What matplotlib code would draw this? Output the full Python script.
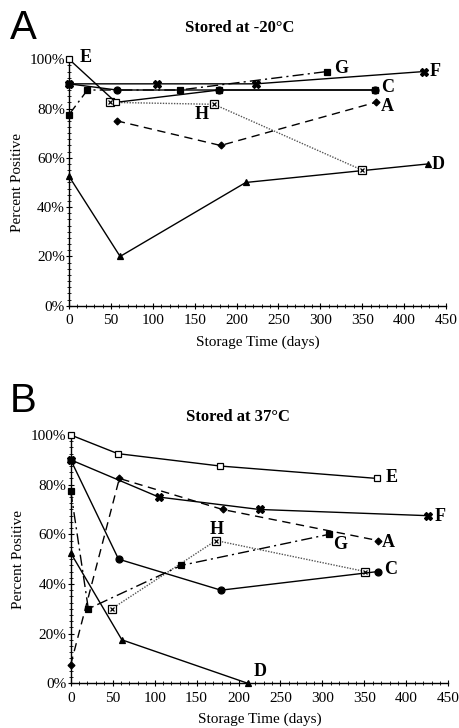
import matplotlib
matplotlib.use("Agg")
import matplotlib.pyplot as plt
from matplotlib.ticker import MultipleLocator, PercentFormatter

# ---- data: panel A, stored at -20C ----
a_A_days = [57, 181, 366]
a_A_pct = [75, 65, 82.5]
a_C_days = [0, 57, 179, 365]
a_C_pct = [90, 87.5, 87.5, 87.5]
a_D_days = [0, 61, 211, 428]
a_D_pct = [52.5, 20, 50, 57.5]
a_E_days = [0, 56, 179, 365]
a_E_pct = [100, 82.5, 87.5, 87.5]
a_F_days = [0, 105, 223, 424]
a_F_pct = [90, 90, 90, 95]
a_G_days = [0, 22, 132, 308]
a_G_pct = [77.5, 87.5, 87.5, 95]
a_H_days = [49, 173, 350]
a_H_pct = [82.5, 81.7, 55]

# ---- data: panel B, stored at 37C ----
b_A_days = [0, 58, 181, 366]
b_A_pct = [7.5, 82.5, 70, 57.5]
b_C_days = [0, 57, 179, 366]
b_C_pct = [90, 50, 37.5, 45]
b_D_days = [0, 61, 211]
b_D_pct = [52.5, 17.5, 0]
b_E_days = [0, 56, 178, 365]
b_E_pct = [100, 92.5, 87.5, 82.5]
b_F_days = [0, 105, 225, 426]
b_F_pct = [90, 75, 70, 67.5]
b_G_days = [0, 21, 132, 308]
b_G_pct = [77.5, 30, 47.5, 60]
b_H_days = [49, 173, 351]
b_H_pct = [30, 57.5, 45]

# label positions (days, percent)
a_labels = {"E": (13, 100.5), "G": (316, 96.3), "F": (431, 95.2), "C": (372, 88.6),
            "A": (372, 81.0), "H": (150, 77.4), "D": (433, 57.4)}
b_labels = {"E": (375, 82.7), "F": (434, 67.2), "H": (166, 62.0), "G": (313, 55.8),
            "A": (371, 56.7), "C": (374, 46.0), "D": (218, 4.7)}

SERIF = "Liberation Serif"
plt.rcParams["font.family"] = SERIF
plt.rcParams["axes.linewidth"] = 1.0

styles = {
    "A": dict(ls=(0, (6, 4)), marker="D", ms=3.5, mfc="black"),
    "C": dict(ls="-", marker="o", ms=5, mfc="black"),
    "D": dict(ls="-", marker="^", ms=5, mfc="black"),
    "E": dict(ls="-", marker="s", ms=5, mfc="white"),
    "F": dict(ls="-", marker="X", ms=6, mfc="black"),
    "G": dict(ls=(0, (8, 3, 1.5, 3)), marker="s", ms=5, mfc="black"),
    "H": dict(ls=(0, (1, 1)), marker="s", ms=5.5, mfc="white"),
}


def draw_panel(ax, series, labels):
    for name, (days, pct) in series.items():
        st = styles[name]
        col = "#555555" if name == "H" else "black"
        ax.plot(days, pct, color=col, lw=1.0, ls=st["ls"], marker=st["marker"],
                ms=st["ms"], mfc=st["mfc"], mec="black", mew=0.9, clip_on=False, zorder=3)
        if name == "H":
            ax.plot(days, pct, ls="none", marker="x", ms=3.5, mec="black", mew=0.9,
                    clip_on=False, zorder=4)
    for name, (x, y) in labels.items():
        ax.text(x, y, name, fontsize=13, fontweight="bold", ha="left", va="center")
    ax.set_xlim(0, 450)
    ax.set_ylim(0, 100)
    ax.xaxis.set_major_locator(MultipleLocator(50))
    ax.xaxis.set_minor_locator(MultipleLocator(10))
    ax.yaxis.set_major_locator(MultipleLocator(20))
    ax.yaxis.set_minor_locator(MultipleLocator(2.5))
    ax.yaxis.set_major_formatter(PercentFormatter(decimals=0))
    ax.spines["top"].set_visible(False)
    ax.spines["right"].set_visible(False)
    ax.tick_params(axis="both", which="major", labelsize=11, length=4, direction="inout")
    ax.tick_params(axis="both", which="minor", length=3, direction="inout")
    ax.tick_params(axis="x", pad=4)
    ax.tick_params(axis="y", pad=1)
    ax.set_xlabel("Storage Time (days)", fontsize=11, labelpad=6)
    ax.set_ylabel("Percent Positive", fontsize=11, labelpad=4)


fig = plt.figure(figsize=(4.6, 7.28), dpi=100)
ax_a = fig.add_axes([0.150, 0.580, 0.8196, 0.3387])
ax_b = fig.add_axes([0.1537, 0.0614, 0.8209, 0.3411])

draw_panel(ax_a, {"D": (a_D_days, a_D_pct), "H": (a_H_days, a_H_pct),
                  "A": (a_A_days, a_A_pct), "G": (a_G_days, a_G_pct),
                  "F": (a_F_days, a_F_pct), "E": (a_E_days, a_E_pct),
                  "C": (a_C_days, a_C_pct)}, a_labels)
draw_panel(ax_b, {"D": (b_D_days, b_D_pct), "H": (b_H_days, b_H_pct),
                  "A": (b_A_days, b_A_pct), "G": (b_G_days, b_G_pct),
                  "F": (b_F_days, b_F_pct), "E": (b_E_days, b_E_pct),
                  "C": (b_C_days, b_C_pct)}, b_labels)

# titles and panel letters
fig.text(240 / 460, 1 - 28 / 728, "Stored at -20°C", fontsize=12, fontweight="bold",
         ha="center", va="center")
fig.text(238 / 460, 1 - 417 / 728, "Stored at 37°C", fontsize=12, fontweight="bold",
         ha="center", va="center")
fig.text(10 / 460, 1 - 28 / 728, "A", fontsize=29, family="Liberation Sans",
         ha="left", va="center")
fig.text(10 / 460, 1 - 401 / 728, "B", fontsize=29, family="Liberation Sans",
         ha="left", va="center")

fig.savefig("out.png", dpi=100)
